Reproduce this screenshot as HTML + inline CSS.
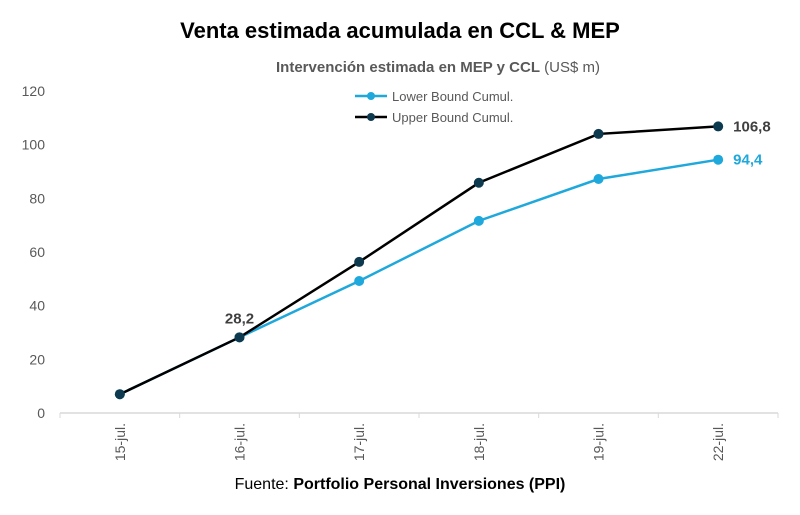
<!DOCTYPE html>
<html><head><meta charset="utf-8"><style>
body{margin:0;background:#fff;font-family:"Liberation Sans",sans-serif;}
</style></head><body>
<svg width="800" height="510" viewBox="0 0 800 510" id="c">
<text x="400" y="38" text-anchor="middle" font-size="22" font-weight="bold" fill="#000">Venta estimada acumulada en CCL &amp; MEP</text>
<text x="438" y="72" text-anchor="middle" font-size="15" fill="#595959"><tspan font-weight="bold">Intervención estimada en MEP y CCL</tspan> (US$ m)</text>
<text x="400" y="489" text-anchor="middle" font-size="16" fill="#000">Fuente: <tspan font-weight="bold">Portfolio Personal Inversiones (PPI)</tspan></text>
<g>
<g><line x1="355" y1="96" x2="387" y2="96" stroke="#1FA8DB" stroke-width="2.5"/><circle cx="371" cy="96" r="4" fill="#1FA8DB"/><text x="392" y="101" font-size="13" fill="#595959">Lower Bound Cumul.</text></g>
<g><line x1="355" y1="117" x2="387" y2="117" stroke="#000" stroke-width="2.5"/><circle cx="371" cy="117" r="4" fill="#0D3A4F"/><text x="392" y="122" font-size="13" fill="#595959">Upper Bound Cumul.</text></g>
</g>
<g id="axes"></g><g id="marks"></g>
</svg>
<script>
const categories=["15-jul.","16-jul.","17-jul.","18-jul.","19-jul.","22-jul."];
const lowerValues=[7,28.2,49.2,71.6,87.2,94.4];
const upperValues=[7,28.2,56.3,85.8,104,106.8];
const yTicks=[0,20,40,60,80,100,120];
const ns="http://www.w3.org/2000/svg";
const x0=60,x1=778,y0=413,yTop=91,yMax=120;
const bw=(x1-x0)/categories.length;
const X=i=>x0+bw*(i+0.5);
const Y=v=>y0-(v/yMax)*(y0-yTop);
function mk(t,a,p){const e=document.createElementNS(ns,t);for(const k in a)e.setAttribute(k,a[k]);p.appendChild(e);return e;}
const ax=document.getElementById('axes'),mg=document.getElementById('marks');
yTicks.forEach(v=>{const t=mk('text',{x:45,y:Y(v)+5,'text-anchor':'end','font-size':14,fill:'#595959'},ax);t.textContent=v;

});
const al=mk('line',{x1:x0,y1:y0,x2:x1,y2:y0,stroke:'#d9d9d9','stroke-width':1.5},ax);


for(let i=0;i<=categories.length;i++){const tk=mk('line',{x1:x0+bw*i,y1:y0,x2:x0+bw*i,y2:y0+5,stroke:'#d9d9d9'},ax);

}
categories.forEach((c,i)=>{const t=mk('text',{transform:`translate(${X(i)+5},${y0+10}) rotate(-90)`,'text-anchor':'end','font-size':14,fill:'#595959'},ax);t.textContent=c;

});
function series(vals,lc,pc,name){
const pl=mk('polyline',{points:vals.map((v,i)=>X(i)+','+Y(v)).join(' '),fill:'none',stroke:lc,'stroke-width':2.5},mg);


vals.forEach((v,i)=>{const c=mk('circle',{cx:X(i),cy:Y(v),r:5,fill:pc},mg);

});}
series(lowerValues,'#1FA8DB','#1FA8DB','lower-bound');
series(upperValues,'#000','#0D3A4F','upper-bound');
const fmt=v=>String(v).replace('.',',');
const n=categories.length-1;
let t=mk('text',{x:X(n)+15,y:Y(upperValues[n])+5,'font-size':15,'font-weight':'bold',fill:'#404040'},mg);t.textContent=fmt(upperValues[n]);


t=mk('text',{x:X(n)+15,y:Y(lowerValues[n])+5,'font-size':15,'font-weight':'bold',fill:'#1FA8DB'},mg);t.textContent=fmt(lowerValues[n]);


t=mk('text',{x:X(1),y:Y(upperValues[1])-14,'text-anchor':'middle','font-size':15,'font-weight':'bold',fill:'#404040'},mg);t.textContent=fmt(upperValues[1]);


</script>
</body></html>
